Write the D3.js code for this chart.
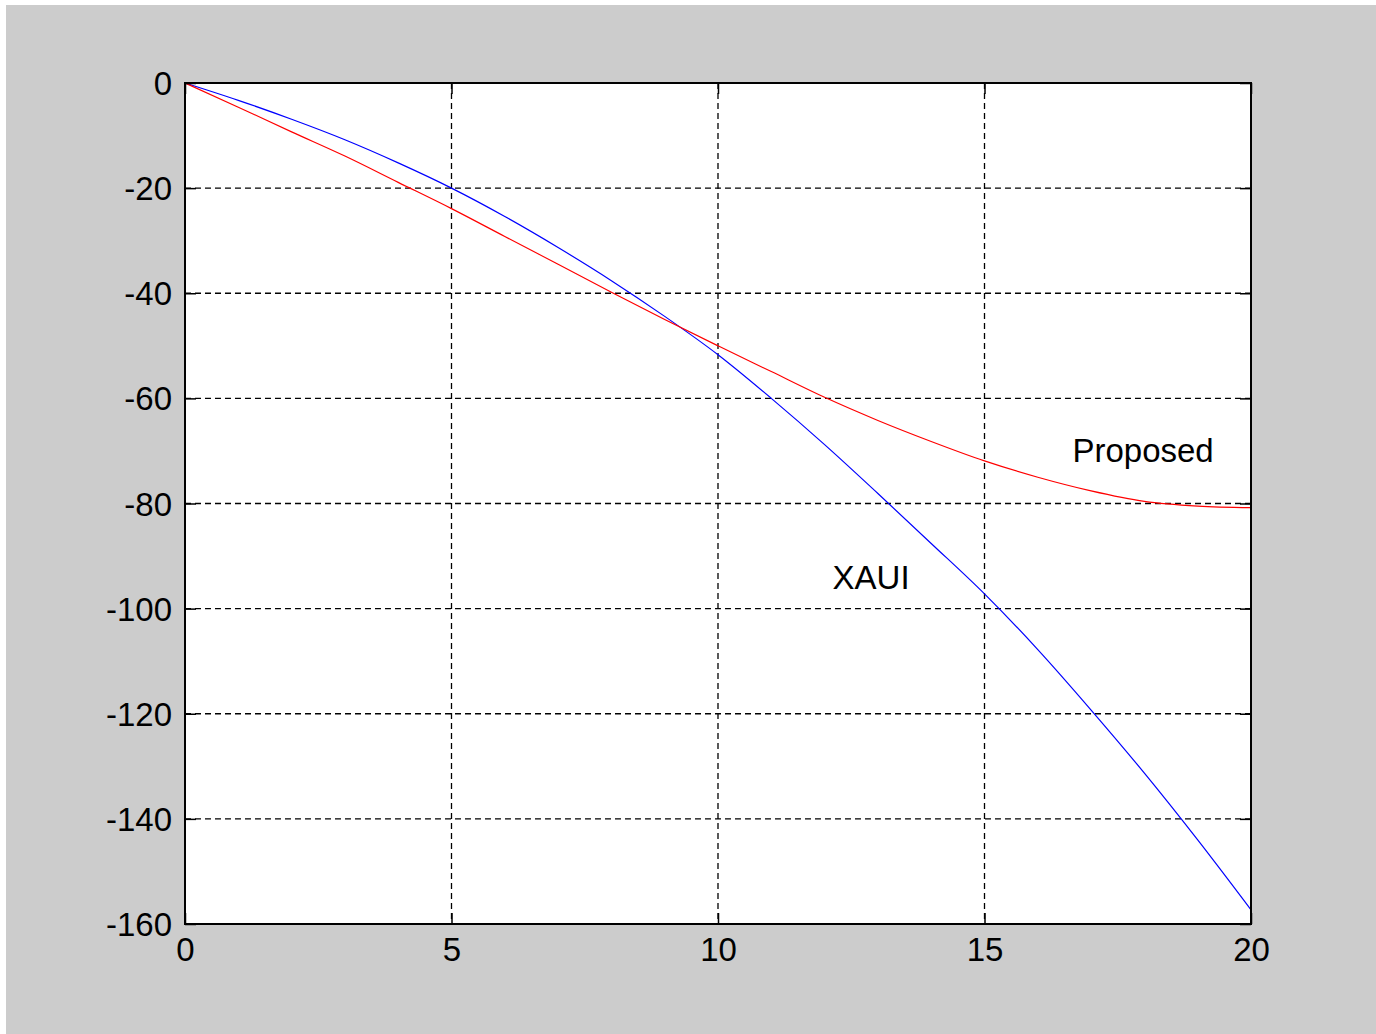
<!DOCTYPE html>
<html>
<head>
<meta charset="utf-8">
<script src="https://cdn.jsdelivr.net/npm/d3@7"></script>
<style>
  html, body { margin: 0; padding: 0; background: #ffffff; }
  svg { display: block; }
  text { font-family: Arial, "Liberation Sans", sans-serif; }
</style>
</head>
<body>
<svg id="chart" width="1376" height="1034"></svg>
<script>
// ---- Data ----
const xValues = [0, 1, 2, 3, 4, 5, 6, 7, 8, 9, 10, 11, 12, 13, 14, 15, 16, 17, 18, 19, 20];
const xauiValues = [0, -3.3, -6.9, -10.8, -15.2, -20, -25.4, -31.3, -37.6, -44.4, -51.7, -60, -68.8, -78.1, -87.6, -97.2, -107.8, -119.3, -131.3, -144, -157.3];
const proposedValues = [0, -4.6, -9.3, -13.9, -18.9, -23.9, -29.2, -34.5, -39.8, -45, -50, -54.9, -59.8, -64.2, -68.2, -71.9, -75, -77.6, -79.6, -80.5, -80.8];
const xTicks = [0, 5, 10, 15, 20];
const yTicks = [0, -20, -40, -60, -80, -100, -120, -140, -160];
const seriesNames = ["XAUI", "Proposed"];
const labelPositions = [[12.15, -94], [16.65, -70]];

// ---- Layout ----
const svg = d3.select("#chart");
const W = 1376, H = 1034;
const plot = { left: 185, top: 83, right: 1251, bottom: 924 };

svg.append("rect").attr("x", 6).attr("y", 5).attr("width", W - 6).attr("height", H - 5).attr("fill", "#cccccc");

const x = d3.scaleLinear().domain([0, 20]).range([plot.left, plot.right]);
const y = d3.scaleLinear().domain([-160, 0]).range([plot.bottom, plot.top]);

svg.append("rect")
  .attr("x", plot.left).attr("y", plot.top)
  .attr("width", plot.right - plot.left).attr("height", plot.bottom - plot.top)
  .attr("fill", "#ffffff");

// grid
const grid = svg.append("g");
grid.selectAll("line.vg").data(xTicks.filter(t => t > 0 && t < 20)).enter().append("line")
  .attr("x1", d => x(d)).attr("x2", d => x(d))
  .attr("y1", plot.top).attr("y2", plot.bottom)
  .attr("stroke", "#000").attr("stroke-width", 1.3).attr("stroke-dasharray", "6,4");
grid.selectAll("line.hg").data(yTicks.filter(t => t < 0 && t > -160)).enter().append("line")
  .attr("x1", plot.left).attr("x2", plot.right)
  .attr("y1", d => y(d)).attr("y2", d => y(d))
  .attr("stroke", "#000").attr("stroke-width", 1.3).attr("stroke-dasharray", "6,4");

// lines
const lineGen = d3.line().x((d, i) => x(xValues[i])).y(d => y(d)).curve(d3.curveMonotoneX);
svg.append("path").datum(xauiValues).attr("d", lineGen)
  .attr("fill", "none").attr("stroke", "#0000ff").attr("stroke-width", 1.2);
svg.append("path").datum(proposedValues).attr("d", lineGen)
  .attr("fill", "none").attr("stroke", "#ff0000").attr("stroke-width", 1.2);

// axes (ticks inside, on all four sides)
const tickLen = 11;
const fontSize = 33;
const fmt = d => String(d);
const axB = svg.append("g").attr("transform", `translate(0,${plot.bottom})`)
  .call(d3.axisBottom(x).tickValues(xTicks).tickFormat(fmt).tickSizeInner(-tickLen).tickSizeOuter(0).tickPadding(14));
const axT = svg.append("g").attr("transform", `translate(0,${plot.top})`)
  .call(d3.axisTop(x).tickValues(xTicks).tickSizeInner(-tickLen).tickSizeOuter(0).tickFormat(""));
const axL = svg.append("g").attr("transform", `translate(${plot.left},0)`)
  .call(d3.axisLeft(y).tickValues(yTicks).tickFormat(fmt).tickSizeInner(-tickLen).tickSizeOuter(0).tickPadding(13));
const axR = svg.append("g").attr("transform", `translate(${plot.right},0)`)
  .call(d3.axisRight(y).tickValues(yTicks).tickSizeInner(-tickLen).tickSizeOuter(0).tickFormat(""));

[axB, axT, axL, axR].forEach(a => {
  a.select(".domain").remove();
  a.selectAll(".tick line").attr("stroke", "#000").attr("stroke-width", 1.5);
  a.selectAll(".tick text").attr("fill", "#000").style("font-size", fontSize + "px")
    .style("font-family", "Arial, 'Liberation Sans', sans-serif");
});
axB.selectAll(".tick text").attr("dy", "0.71em");
axL.selectAll(".tick text").attr("dy", "0.35em");

// box
svg.append("rect")
  .attr("x", plot.left).attr("y", plot.top)
  .attr("width", plot.right - plot.left).attr("height", plot.bottom - plot.top)
  .attr("fill", "none").attr("stroke", "#000").attr("stroke-width", 2);

// text labels
svg.selectAll("text.lbl").data(seriesNames).enter().append("text")
  .attr("class", "lbl")
  .attr("x", (d, i) => x(labelPositions[i][0]))
  .attr("y", (d, i) => y(labelPositions[i][1]))
  .attr("dy", "0.35em")
  .attr("fill", "#000")
  .style("font-size", fontSize + "px")
  .text(d => d);
</script>
</body>
</html>
